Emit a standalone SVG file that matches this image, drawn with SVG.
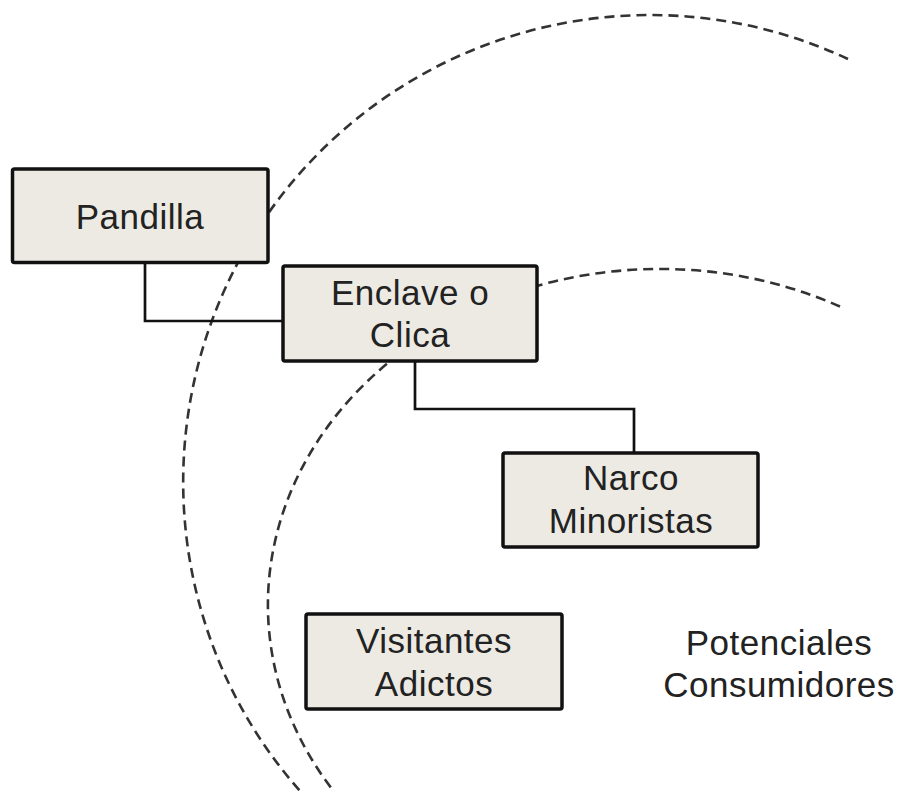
<svg xmlns="http://www.w3.org/2000/svg" width="899" height="791" viewBox="0 0 899 791">
<style>
.arc{fill:none;stroke:#333;stroke-width:2.6;stroke-dasharray:10 6}
.conn{fill:none;stroke:#111;stroke-width:2.7}
.box{fill:#ECEAE2;stroke:#111;stroke-width:3.5}
.t{font-family:"Liberation Sans",Arial,sans-serif;font-size:35px;letter-spacing:0.5px;fill:#222;text-anchor:middle}
</style>
<rect width="899" height="791" fill="#fff"/>
<g id="arcs">
<path class="arc" d="M 848 59 A 467 467 0 0 0 300 791"/>
<path class="arc" d="M 840 306.5 A 392 336 0 0 0 333.5 791"/>
</g>
<g id="connectors">
<polyline class="conn" points="145,263 145,321 283,321"/>
<polyline class="conn" points="415,361 415,409 634,409 634,453"/>
</g>
<g id="pandilla">
<rect class="box" x="12.5" y="169" width="255.5" height="93.5" rx="2"/>
<text class="t" x="140" y="229">Pandilla</text>
</g>
<g id="enclave">
<rect class="box" x="283" y="266" width="254" height="95" rx="2"/>
<text class="t" x="410" y="305">Enclave o</text>
<text class="t" x="410" y="347">Clica</text>
</g>
<g id="narco">
<rect class="box" x="503" y="453" width="255" height="94" rx="2"/>
<text class="t" x="631" y="490">Narco</text>
<text class="t" x="631" y="533">Minoristas</text>
</g>
<g id="visitantes">
<rect class="box" x="306" y="614" width="256" height="95" rx="2"/>
<text class="t" x="434" y="653">Visitantes</text>
<text class="t" x="434" y="696">Adictos</text>
</g>
<g id="potenciales">
<text class="t" x="779" y="655">Potenciales</text>
<text class="t" x="779" y="697">Consumidores</text>
</g>
</svg>
